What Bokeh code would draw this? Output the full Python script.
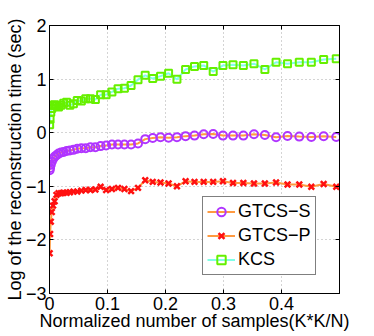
import math
from bokeh.plotting import figure
from bokeh.models import Range1d, FixedTicker, LinearAxis, Legend, LegendItem
from bokeh.embed import file_html
from bokeh.resources import INLINE

# Normalized number of samples K*K/N (N = 4096), K = 1..45
samples = [0.000244, 0.000977, 0.002197, 0.003906, 0.006104, 0.008789, 0.011963, 0.015625,
           0.019775, 0.024414, 0.029541, 0.035156, 0.041260, 0.047852, 0.054932, 0.0625,
           0.070557, 0.079102, 0.088135, 0.097656, 0.107666, 0.118164, 0.129150, 0.140625,
           0.152588, 0.165039, 0.177979, 0.191406, 0.205322, 0.219727, 0.234619, 0.25,
           0.265869, 0.282227, 0.299072, 0.316406, 0.334229, 0.352539, 0.371338, 0.390625,
           0.410400, 0.430664, 0.451416, 0.472656, 0.494385]

gtcs_s = [-0.70, -0.66, -0.60, -0.54, -0.49, -0.45, -0.42, -0.39, -0.37, -0.36, -0.34, -0.33,
          -0.32, -0.30, -0.29, -0.29, -0.27, -0.27, -0.25, -0.24, -0.22, -0.22, -0.22, -0.22,
          -0.20, -0.12, -0.10, -0.085, -0.095, -0.083, -0.064, -0.054, -0.03, -0.024, -0.054,
          -0.054, -0.054, -0.03, -0.043, -0.086, -0.061, -0.073, -0.08, -0.067, -0.08]

gtcs_p = [-2.25, -1.89, -1.66, -1.48, -1.36, -1.28, -1.16, -1.13, -1.13, -1.12, -1.12, -1.11,
          -1.10, -1.10, -1.08, -1.07, -1.07, -1.06, -1.01, -1.07, -1.05, -1.03, -1.05, -1.09,
          -1.03, -0.886, -0.918, -0.93, -0.948, -1.0, -0.905, -0.918, -0.918, -0.918, -0.905,
          -0.937, -0.937, -0.948, -0.948, -0.93, -0.967, -0.967, -1.01, -0.956, -1.01]

kcs = [0.15, 0.25, 0.38, 0.45, 0.51, 0.52, 0.50, 0.48, 0.51, 0.55, 0.57, 0.51, 0.54, 0.60,
       0.59, 0.635, 0.635, 0.62, 0.71, 0.71, 0.76, 0.82, 0.83, 0.88, 0.99, 1.07, 1.01, 1.055,
       1.11, 0.995, 1.18, 1.237, 1.255, 1.14, 1.255, 1.268, 1.255, 1.287, 1.18, 1.315, 1.287,
       1.315, 1.315, 1.366, 1.38]

x_ticks = [0, 0.1, 0.2, 0.3, 0.4]
x_tick_labels = ["0", "0.1", "0.2", "0.3", "0.4"]
y_ticks = [-3, -2, -1, 0, 1, 2]
y_tick_labels = ["\u22123", "\u22122", "\u22121", "0", "1", "2"]
series_labels = ["GTCS\u2212S", "GTCS\u2212P", "KCS"]
x_title = "Normalized number of samples(K*K/N)"
y_title = "Log of the reconstruction time (sec)"

FONT = "Liberation Sans"

p = figure(frame_width=290, frame_height=268, output_backend="svg", toolbar_location=None,
           x_range=Range1d(0, 0.5), y_range=Range1d(-3, 2),
           min_border_left=49, min_border_right=31, min_border_top=25, min_border_bottom=41,
           x_axis_label=x_title, y_axis_label=y_title)
p.background_fill_color = "white"
p.border_fill_color = "white"
p.outline_line_color = "black"
p.outline_line_width = 1

p.xaxis.ticker = FixedTicker(ticks=x_ticks)
p.yaxis.ticker = FixedTicker(ticks=y_ticks)
p.xaxis.major_label_overrides = {t: l for t, l in zip(x_ticks, x_tick_labels)}
p.yaxis.major_label_overrides = {t: l for t, l in zip(y_ticks, y_tick_labels)}

for ax in list(p.xaxis) + list(p.yaxis):
    ax.axis_line_color = "black"
    ax.major_tick_in = 4
    ax.major_tick_out = 0
    ax.minor_tick_in = 0
    ax.minor_tick_out = 0
    ax.major_tick_line_color = "black"
    ax.major_label_text_font = FONT
    ax.major_label_text_font_size = "18px"
    ax.major_label_text_color = "black"
    ax.axis_label_text_font = FONT
    ax.axis_label_text_font_size = "18px"
    ax.axis_label_text_font_style = "normal"
    ax.axis_label_text_color = "black"
p.xaxis.major_label_standoff = 3
p.xaxis.axis_label_standoff = -2
p.yaxis.major_label_standoff = 3
p.yaxis.axis_label_standoff = -2

top_ax = LinearAxis(ticker=FixedTicker(ticks=x_ticks),
                    major_label_overrides={t: "" for t in x_ticks},
                    major_tick_in=4, major_tick_out=0, minor_tick_in=0, minor_tick_out=0,
                    major_label_standoff=0, axis_line_color="black")
right_ax = LinearAxis(ticker=FixedTicker(ticks=y_ticks),
                      major_label_overrides={t: "" for t in y_ticks},
                      major_tick_in=4, major_tick_out=0, minor_tick_in=0, minor_tick_out=0,
                      major_label_standoff=0, axis_line_color="black")
p.add_layout(top_ax, "above")
p.add_layout(right_ax, "right")

p.xgrid.ticker = FixedTicker(ticks=x_ticks)
p.ygrid.ticker = FixedTicker(ticks=y_ticks)
for g in (p.xgrid, p.ygrid):
    g.grid_line_color = "#a8a8a8"
    g.grid_line_dash = "1 3"
    g.grid_line_width = 1

ORANGE = "#FF9A40"
r1l = p.line(samples, gtcs_s, line_color=ORANGE, line_width=2)
r1m = p.scatter(samples, gtcs_s, marker="circle", size=8, line_color="#B035FF",
                line_width=2, fill_color=None)
r2l = p.line(samples, gtcs_p, line_color=ORANGE, line_width=2)
r2m = p.scatter(samples, gtcs_p, marker="x", size=8, line_color="#FF1010", line_width=2.5)
r3l = p.line(samples, kcs, line_color="#80FFE6", line_width=2)
r3m = p.scatter(samples, kcs, marker="square", size=7, line_color="#66F000",
                line_width=2, fill_color=None)

legend = Legend(items=[LegendItem(label=series_labels[0], renderers=[r1l, r1m]),
                       LegendItem(label=series_labels[1], renderers=[r2l, r2m]),
                       LegendItem(label=series_labels[2], renderers=[r3l, r3m])],
                location=(153, 18), orientation="vertical",
                label_text_font=FONT, label_text_font_size="18px", label_text_color="black",
                glyph_width=28, glyph_height=21, label_height=21, spacing=3, padding=4,
                margin=0, label_standoff=3, border_line_color="black", border_line_width=1,
                background_fill_color="white", background_fill_alpha=1.0)
p.add_layout(legend)

open("out.html", "w").write(file_html(p, INLINE))
